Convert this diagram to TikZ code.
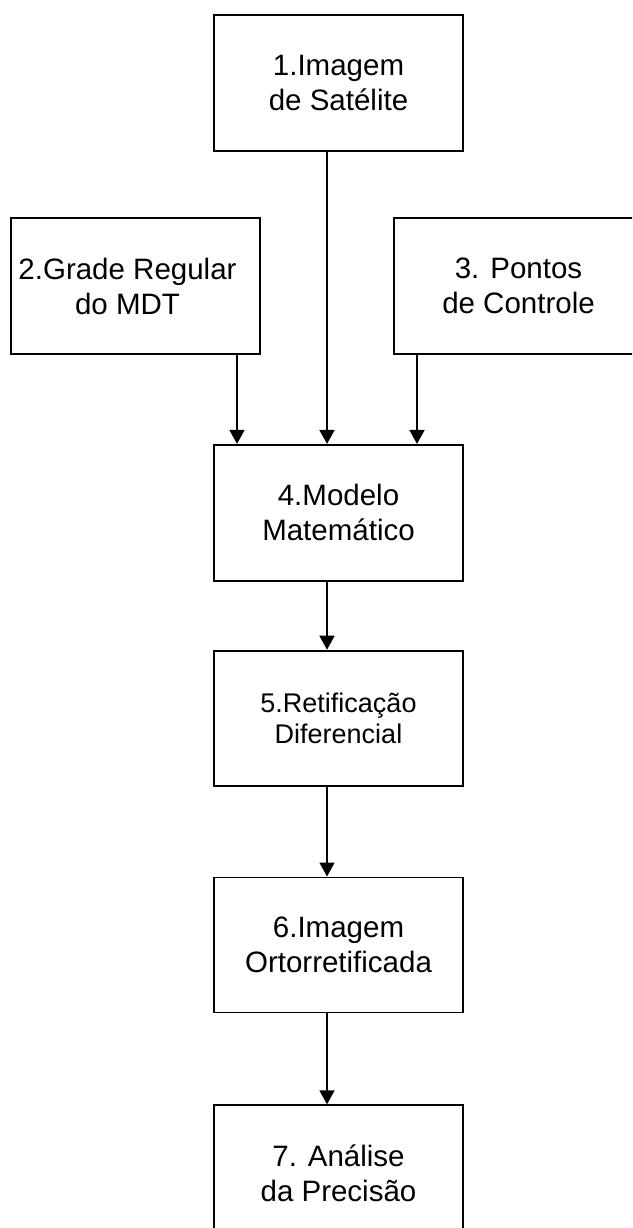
\documentclass[tikz,border=0pt]{standalone}
\usepackage{fontspec}
\setmainfont{Liberation Sans}
\usepackage{tikz}
\usetikzlibrary{arrows.meta,positioning}
\tikzstyle{block} = [rectangle, draw, line width=1.8pt, align=center,
    minimum width=249pt, minimum height=136pt, inner sep=0pt,
    font=\fontsize{29.5}{35}\selectfont]
\tikzstyle{line} = [draw, line width=1.8pt, -{Triangle[length=14pt,width=15pt]}]

\begin{document}
\begin{tikzpicture}[node distance = 68pt]
   \useasboundingbox (0,0) rectangle (632pt,-1228pt);
   \clip (0,0) rectangle (632pt,-1228pt);
   \node [block] (imagem) at (338.5pt,-83pt) {1.Imagem\\de Satélite};
   \node [block] (grade) at (135.5pt,-286pt) {2.Grade Regular\hspace*{16pt}\\do MDT\hspace*{16pt}};
   \node [block] (pontos) at (518.5pt,-286pt) {3. Pontos\\de Controle};
   \node [block,below=292pt of imagem] (modelo) {4.Modelo\\Matemático};
   \node [block,below=of modelo,minimum height=135pt,
          font=\fontsize{27}{31}\selectfont] (retificacao) {5.Retificação\\Diferencial};
   \node [block,below=90pt of retificacao,minimum height=135pt] (orto) {6.Imagem\\Ortorretificada};
   \node [block,below=91pt of orto] (analise) {7. Análise\\da Precisão};
   % entradas do modelo
   \path [line] ([xshift=-11.5pt]imagem.south) -- ([xshift=-11.5pt]modelo.north);
   \path [line] ([xshift=101.5pt]grade.south) -- ([xshift=-101.5pt]modelo.north);
   \path [line] ([xshift=-101.5pt]pontos.south) -- ([xshift=78.5pt]modelo.north);
   % sequencia
   \path [line] ([xshift=-11.5pt]modelo.south) -- ([xshift=-11.5pt]retificacao.north);
   \path [line] ([xshift=-11.5pt]retificacao.south) -- ([xshift=-11.5pt]orto.north);
   \path [line] ([xshift=-11.5pt]orto.south) -- ([xshift=-11.5pt]analise.north);
\end{tikzpicture}
\end{document}
